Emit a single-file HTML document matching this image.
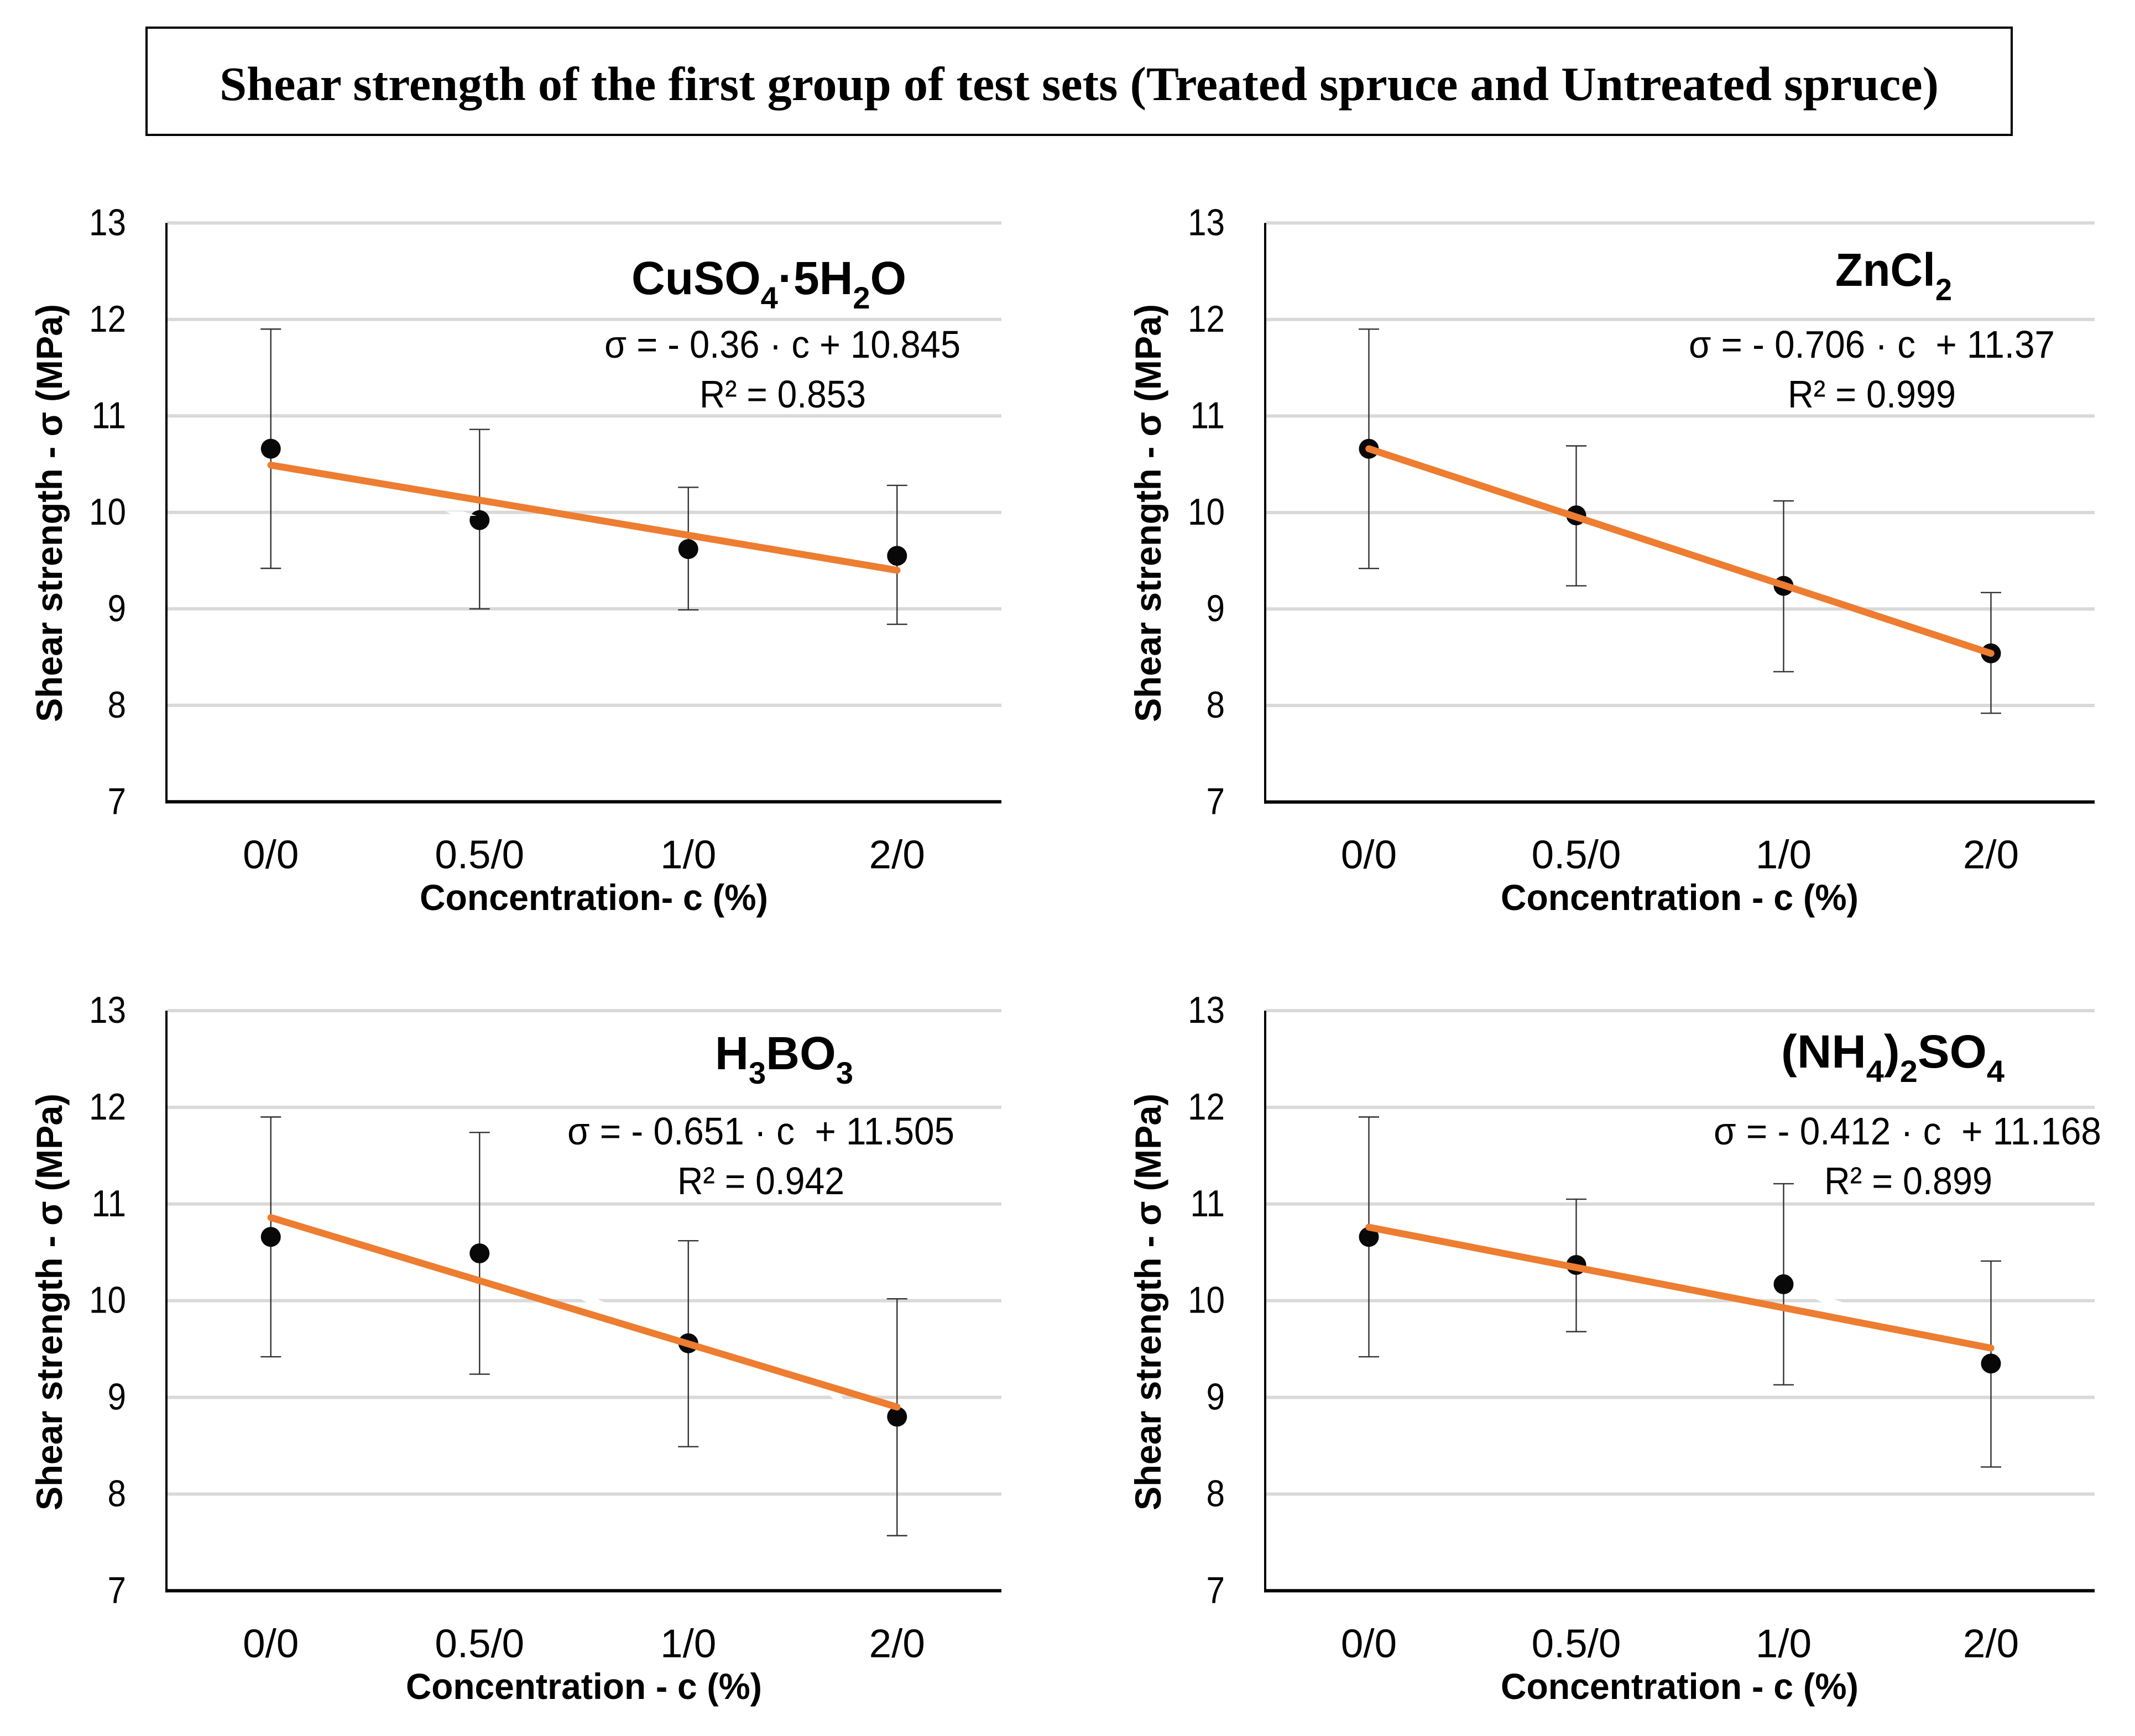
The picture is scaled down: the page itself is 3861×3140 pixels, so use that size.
<!DOCTYPE html>
<html lang="en">
<head>
<meta charset="utf-8">
<title>Shear strength of the first group of test sets</title>
<style>
html,body{margin:0;padding:0;background:#fff;width:3861px;height:3140px;overflow:hidden}
svg{display:block}
text{fill:#000;font-family:"Liberation Sans",sans-serif}
.title{font-family:"Liberation Serif",serif;font-weight:700;font-size:87px}
.ytitle,.xtitle{font-weight:700;font-size:66px}
.formula{font-weight:700;font-size:84px}
.eq{font-size:70px}
</style>
</head>
<body>
<svg id="figure" xmlns="http://www.w3.org/2000/svg" width="3861" height="3140" viewBox="0 0 3861 3140">
  <rect x="265" y="50" width="3373" height="194" fill="#fff" stroke="#000" stroke-width="4"/>
  <text class="title" x="397" y="181" textLength="3109" lengthAdjust="spacingAndGlyphs">Shear strength of the first group of test sets (Treated spruce and Untreated spruce)</text>

  <g id="panel-a"></g>
  <g id="panel-b"></g>
  <g id="panel-c"></g>
  <g id="panel-d"></g>

  <polygon points="806,925 838,925 862,933 822,933" fill="#fff"/>
  <polygon points="1045,2347 1076,2347 1094,2356 1062,2356" fill="#fff"/>
  <polygon points="1498,2522 1518,2522 1526,2531 1508,2531" fill="#fff"/>
  <polygon points="3278,2347 3310,2347 3333,2356 3296,2356" fill="#fff"/>

  <text class="ytitle" transform="translate(112 1306) rotate(-90)" textLength="756" lengthAdjust="spacingAndGlyphs">Shear strength - σ (MPa)</text>
  <text class="ytitle" transform="translate(2099 1306) rotate(-90)" textLength="756" lengthAdjust="spacingAndGlyphs">Shear strength - σ (MPa)</text>
  <text class="ytitle" transform="translate(112 2732) rotate(-90)" textLength="754" lengthAdjust="spacingAndGlyphs">Shear strength - σ (MPa)</text>
  <text class="ytitle" transform="translate(2099 2732) rotate(-90)" textLength="754" lengthAdjust="spacingAndGlyphs">Shear strength - σ (MPa)</text>

  <text class="xtitle" x="759" y="1646" textLength="630" lengthAdjust="spacingAndGlyphs">Concentration- c (%)</text>
  <text class="xtitle" x="2714" y="1646" textLength="647" lengthAdjust="spacingAndGlyphs">Concentration - c (%)</text>
  <text class="xtitle" x="734" y="3073" textLength="644" lengthAdjust="spacingAndGlyphs">Concentration - c (%)</text>
  <text class="xtitle" x="2714" y="3073" textLength="647" lengthAdjust="spacingAndGlyphs">Concentration - c (%)</text>

  <text class="formula" x="1142" y="532" textLength="497" lengthAdjust="spacingAndGlyphs">CuSO<tspan font-size="56" dy="26">4</tspan><tspan dy="-26">·5H</tspan><tspan font-size="56" dy="26">2</tspan><tspan dy="-26">O</tspan></text>
  <text class="eq" x="1093" y="647" textLength="644" lengthAdjust="spacingAndGlyphs">σ = - 0.36 · c + 10.845</text>
  <text class="eq" x="1265" y="737" textLength="301" lengthAdjust="spacingAndGlyphs">R² = 0.853</text>

  <text class="formula" x="3319" y="517" textLength="211" lengthAdjust="spacingAndGlyphs">ZnCl<tspan font-size="56" dy="26">2</tspan></text>
  <text class="eq" x="3054" y="647" textLength="662" lengthAdjust="spacingAndGlyphs">σ = - 0.706 · c &#160;+ 11.37</text>
  <text class="eq" x="3233" y="737" textLength="304" lengthAdjust="spacingAndGlyphs">R² = 0.999</text>

  <text class="formula" x="1293" y="1934" textLength="250" lengthAdjust="spacingAndGlyphs">H<tspan font-size="56" dy="26">3</tspan><tspan dy="-26">BO</tspan><tspan font-size="56" dy="26">3</tspan></text>
  <text class="eq" x="1026" y="2070" textLength="700" lengthAdjust="spacingAndGlyphs">σ = - 0.651 · c &#160;+ 11.505</text>
  <text class="eq" x="1225" y="2160" textLength="302" lengthAdjust="spacingAndGlyphs">R² = 0.942</text>

  <text class="formula" x="3221" y="1931" textLength="404" lengthAdjust="spacingAndGlyphs">(NH<tspan font-size="56" dy="26">4</tspan><tspan dy="-26">)</tspan><tspan font-size="56" dy="26">2</tspan><tspan dy="-26">SO</tspan><tspan font-size="56" dy="26">4</tspan></text>
  <text class="eq" x="3099" y="2070" textLength="701" lengthAdjust="spacingAndGlyphs">σ = - 0.412 · c &#160;+ 11.168</text>
  <text class="eq" x="3299" y="2160" textLength="304" lengthAdjust="spacingAndGlyphs">R² = 0.899</text>
</svg>
<script>
const categories = ['0/0', '0.5/0', '1/0', '2/0'];
const yTickLabels = [7, 8, 9, 10, 11, 12, 13];

const cuso4Means = [10.66, 9.92, 9.62, 9.55];
const cuso4Upper = [11.90, 10.86, 10.26, 10.28];
const cuso4Lower = [9.42, 9.00, 8.99, 8.84];
const cuso4Trend = [10.49, 9.40];

const zncl2Means = [10.66, 9.97, 9.24, 8.54];
const zncl2Upper = [11.90, 10.69, 10.12, 9.17];
const zncl2Lower = [9.42, 9.24, 8.35, 7.92];
const zncl2Trend = [10.66, 8.54];

const h3bo3Means = [10.66, 10.49, 9.56, 8.80];
const h3bo3Upper = [11.90, 11.74, 10.62, 10.02];
const h3bo3Lower = [9.42, 9.24, 8.49, 7.57];
const h3bo3Trend = [10.86, 8.90];

const nh4so4Means = [10.66, 10.37, 10.17, 9.35];
const nh4so4Upper = [11.90, 11.05, 11.21, 10.41];
const nh4so4Lower = [9.42, 9.68, 9.13, 8.28];
const nh4so4Trend = [10.76, 9.51];

const SVG_NS = 'http://www.w3.org/2000/svg';

function line(parent, x1, y1, x2, y2, stroke, width, cap) {
  const el = document.createElementNS(SVG_NS, 'line');
  el.setAttribute('x1', x1);
  el.setAttribute('y1', y1);
  el.setAttribute('x2', x2);
  el.setAttribute('y2', y2);
  el.setAttribute('stroke', stroke);
  el.setAttribute('stroke-width', width);
  if (cap) el.setAttribute('stroke-linecap', cap);
  parent.appendChild(el);
  return el;
}

function drawPanel(id, box, means, upper, lower, trend) {
  const g = document.getElementById(id);
  const yMin = yTickLabels[0];
  const yMax = yTickLabels[yTickLabels.length - 1];
  const xScale = function (i) {
    return box.left + (i + 0.5) * (box.right - box.left) / categories.length;
  };
  const yScale = function (v) {
    return box.bottom - (v - yMin) / (yMax - yMin) * (box.bottom - box.top);
  };

  yTickLabels.forEach(function (tick) {
    if (tick > yMin) {
      const grid = line(g, box.left + 2, yScale(tick), box.right, yScale(tick), '#d9d9d9', 6);
      
      
    }
    const label = document.createElementNS(SVG_NS, 'text');
    label.textContent = String(tick);
    label.setAttribute('x', box.left - 73);
    label.setAttribute('y', yScale(tick) + 22);
    label.setAttribute('text-anchor', 'end');
    label.setAttribute('font-size', '68');
    
    
    g.appendChild(label);
    label.setAttribute('textLength', label.getComputedTextLength() * 0.886);
    label.setAttribute('lengthAdjust', 'spacingAndGlyphs');
  });

  const yAxis = line(g, box.left, box.top, box.left, box.bottom + 3, '#000', 4);
  
  
  const xAxis = line(g, box.left - 2, box.bottom, box.right, box.bottom, '#000', 6);
  
  

  categories.forEach(function (cat, i) {
    const label = document.createElementNS(SVG_NS, 'text');
    label.textContent = cat;
    label.setAttribute('x', xScale(i));
    label.setAttribute('y', box.bottom + 120);
    label.setAttribute('text-anchor', 'middle');
    label.setAttribute('font-size', '72');
    
    
    g.appendChild(label);
    label.setAttribute('textLength', label.getComputedTextLength() * 1.01);
    label.setAttribute('lengthAdjust', 'spacingAndGlyphs');
  });

  means.forEach(function (v, i) {
    const x = xScale(i);
    const bar = line(g, x, yScale(upper[i]), x, yScale(lower[i]), '#333', 2.4);
    
    
    const capTop = line(g, x - 18.5, yScale(upper[i]), x + 18.5, yScale(upper[i]), '#333', 2.4);
    
    
    const capBottom = line(g, x - 18.5, yScale(lower[i]), x + 18.5, yScale(lower[i]), '#333', 2.4);
    
    
    const point = document.createElementNS(SVG_NS, 'circle');
    point.setAttribute('cx', x);
    point.setAttribute('cy', yScale(v));
    point.setAttribute('r', 18);
    point.setAttribute('fill', '#080808');
    
    
    g.appendChild(point);
  });

  const trendLine = line(g, xScale(0), yScale(trend[0]), xScale(categories.length - 1), yScale(trend[1]), '#ed7d31', 12.5, 'round');
  
  
}

drawPanel('panel-a', {left: 301, right: 1811, top: 403.3, bottom: 1450.3}, cuso4Means, cuso4Upper, cuso4Lower, cuso4Trend);
drawPanel('panel-b', {left: 2288, right: 3788, top: 403.3, bottom: 1450.6}, zncl2Means, zncl2Upper, zncl2Lower, zncl2Trend);
drawPanel('panel-c', {left: 301, right: 1811, top: 1828, bottom: 2877.3}, h3bo3Means, h3bo3Upper, h3bo3Lower, h3bo3Trend);
drawPanel('panel-d', {left: 2288, right: 3788, top: 1828, bottom: 2877.3}, nh4so4Means, nh4so4Upper, nh4so4Lower, nh4so4Trend);
</script>
</body>
</html>
